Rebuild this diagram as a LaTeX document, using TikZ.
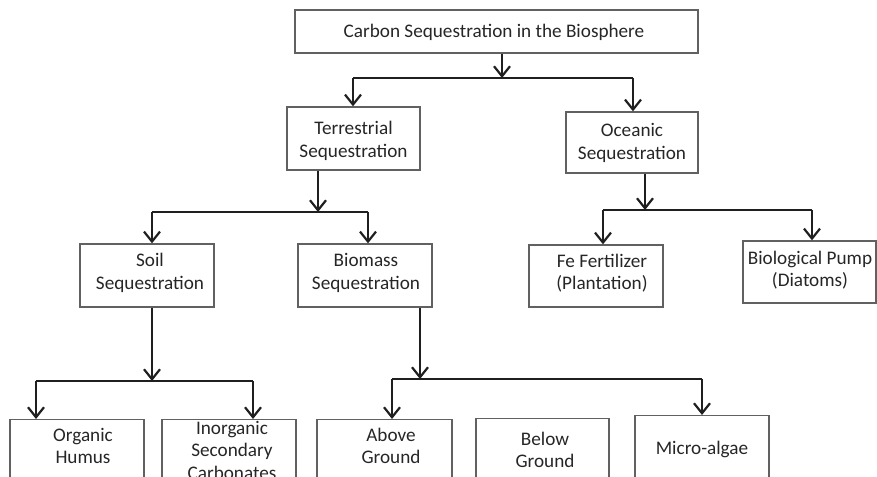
\documentclass[tikz,border=0pt]{standalone}
\usepackage{fontspec}
\setmainfont{Carlito}
\usetikzlibrary{arrows.meta}
\begin{document}
\begin{tikzpicture}[x=1bp,y=-1bp,
  txt/.style={font=\fontsize{19.2bp}{22.5bp}\selectfont, text=black!85, align=center, inner sep=0pt},
  box/.style={draw=black!62, line width=1.3bp, rectangle, inner sep=0pt},
  conn/.style={draw=black!88, line width=2bp},
  arr/.style={conn, -{Straight Barb[length=10bp,width=16bp,line width=2.2bp]}}
]
\useasboundingbox (0,0) rectangle (877,477);
\clip (0,0) rectangle (877,477);

% ---- boxes ----
\node[box, minimum width=403bp, minimum height=43bp] (top)   at (496.5,31.5) {};
\node[box, minimum width=133bp, minimum height=63bp] (terr)  at (353.5,138.5) {};
\node[box, minimum width=132bp, minimum height=61bp] (ocean) at (632,142.5) {};
\node[box, minimum width=134bp, minimum height=63bp] (soil)  at (147,275.5) {};
\node[box, minimum width=134bp, minimum height=63bp] (bio)   at (365,275.5) {};
\node[box, minimum width=134bp, minimum height=62bp] (fe)    at (596,276) {};
\node[box, minimum width=133bp, minimum height=62bp] (pump)  at (809.5,272) {};
\node[box, minimum width=134bp, minimum height=90bp, anchor=north] (org)   at (77,419) {};
\node[box, minimum width=134bp, minimum height=90bp, anchor=north] (inorg) at (229,419) {};
\node[box, minimum width=135bp, minimum height=90bp, anchor=north] (above) at (384.5,419) {};
\node[box, minimum width=133bp, minimum height=90bp, anchor=north] (below) at (542.5,418) {};
\node[box, minimum width=134bp, minimum height=90bp, anchor=north] (micro) at (702,415) {};

% ---- texts ----
\node[txt] (ttop)   at (494,32)    {Carbon Sequestration in the Biosphere};
\node[txt] (tterr)  at (353.5,141) {Terrestrial\\Sequestration};
\node[txt] (tocean) at (632,143)   {Oceanic\\Sequestration};
\node[txt] (tsoil)  at (150,273)   {Soil\\Sequestration};
\node[txt] (tbio)   at (366,273)   {Biomass\\Sequestration};
\node[txt] (tfe)    at (602,273)   {Fe Fertilizer\\(Plantation)};
\node[txt] (tpump)  at (810,270)   {Biological Pump\\(Diatoms)};
\node[txt] (torg)   at (83,446)    {Organic\\Humus};
\node[txt] (tinorg) at (232,450)   {Inorganic\\Secondary\\Carbonates};
\node[txt] (tabove) at (391,446)   {Above\\Ground};
\node[txt] (tbelow) at (545,450)   {Below\\Ground};
\node[txt] (tmicro) at (702,449)   {Micro-algae};

% ---- level 1 ----
\coordinate (j0) at (502,78);
\coordinate (a1) at (353,78);
\coordinate (a2) at (633,78);
\draw[arr] (top.south -| j0) -- (j0);
\draw[conn] (a1) -- (a2);
\draw[arr] (a1) -- (a1 |- terr.north);
\draw[arr] (a2) -- (a2 |- ocean.north);

% ---- terrestrial branch ----
\coordinate (j1) at (318,212);
\coordinate (b1) at (152,212);
\coordinate (b2) at (368,212);
\draw[arr] (terr.south -| j1) -- (j1);
\draw[conn] (b1) -- (b2);
\draw[arr] (b1) -- (b1 |- soil.north);
\draw[arr] (b2) -- (b2 |- bio.north);

% ---- oceanic branch ----
\coordinate (j2) at (645,210);
\coordinate (c1) at (603,210);
\coordinate (c2) at (812,210);
\draw[arr] (ocean.south -| j2) -- (j2);
\draw[conn] (c1) -- (c2);
\draw[arr] (c1) -- (c1 |- fe.north);
\draw[arr] (c2) -- (c2 |- pump.north);

% ---- soil branch ----
\coordinate (j3) at (152,381);
\coordinate (d1) at (36,381);
\coordinate (d2) at (253,381);
\draw[arr] (soil.south -| j3) -- (j3);
\draw[conn] (d1) -- (d2);
\draw[arr] (d1) -- (d1 |- org.north);
\draw[arr] (d2) -- (d2 |- inorg.north);

% ---- biomass branch ----
\coordinate (j4) at (420,379);
\coordinate (e1) at (392,379);
\coordinate (e2) at (702,379);
\draw[arr] (bio.south -| j4) -- (j4);
\draw[conn] (e1) -- (e2);
\draw[arr] (e1) -- (e1 |- above.north);
\draw[arr] (e2) -- (e2 |- micro.north);
\end{tikzpicture}
\end{document}
